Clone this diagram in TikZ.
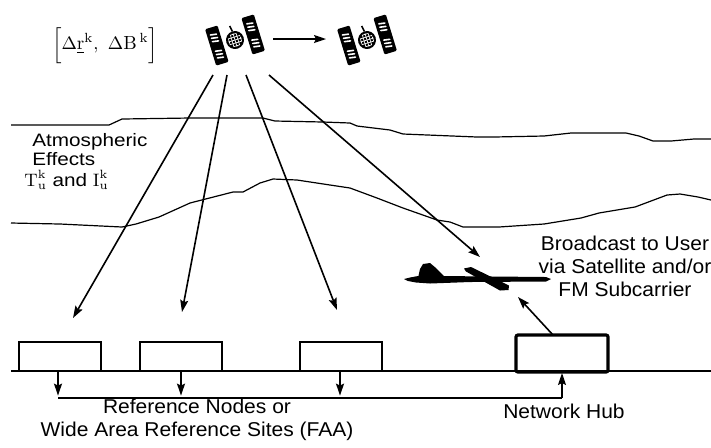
\documentclass[tikz,border=0pt]{standalone}
\usepackage{fontspec}
\newfontfamily\labelfont{Liberation Sans}[FakeStretch=1.05]
\newfontfamily\narrowlabelfont{Liberation Sans}[FakeStretch=1.15]
\usetikzlibrary{arrows.meta}

\tikzset{
  conn/.style={line width=0.8pt},
  ray/.style={line width=0.8pt,-{Stealth[length=6pt,width=4pt,inset=1pt]}},
  air/.style={line width=0.6pt,line join=round},
  site/.style={draw,line width=0.8pt,inner sep=0pt,outer sep=0pt,
    minimum width=41pt,minimum height=14.5pt,anchor=south west},
  hubbox/.style={draw,line width=1.6pt,rounded corners=1pt,inner sep=0pt,outer sep=0pt,
    minimum width=46pt,minimum height=18.5pt,anchor=south west},
  txt/.style={font=\labelfont\fontsize{10}{11.5}\selectfont,inner sep=0pt,align=center},
  atmtxt/.style={font=\narrowlabelfont\fontsize{9}{10}\selectfont,inner sep=0pt,anchor=west},
  sat/.pic={
    \begin{scope}[rotate=17]
      \foreach \s in {-1,1} {
        \fill[black,rounded corners=0.6pt] ({\s*19-6.5},-19) rectangle ({\s*19+6.5},19);
        \foreach \yy in {-12,-8.5,-5,5,8.5,12}
          \draw[white,line width=0.8pt,line cap=round] ({\s*19-3},\yy) -- ({\s*19+3},\yy+1);
      }
      \fill[black] (0,0) circle (9);
      \begin{scope}
        \clip (0,0) circle (6.8);
        \foreach \g in {-6,-3,0,3,6} {
          \draw[white,line width=0.35pt] (\g,-9) -- (\g,9);
          \draw[white,line width=0.35pt] (-9,\g) -- (9,\g);
        }
      \end{scope}
      \draw[line width=0.8pt] (0,-9) -- (-1,-15);
    \end{scope}
  }
}

\begin{document}
\begin{tikzpicture}[x=0.5pt,y=-0.5pt]
\useasboundingbox[fill=white] (0,0) rectangle (711,447);

% satellites and their motion
\pic at (235,40) {sat};
\pic at (367,40) {sat};
\coordinate (m1) at (273,39);
\coordinate (m2) at (326,39);
\draw[ray] (m1) -- (m2);

\node[font=\fontsize{9.5}{11}\selectfont,inner sep=0pt] (corr) at (105,45)
  {$\Bigl[\Delta\underline{\mathrm{r}}^{\mathrm{k}},\ \Delta\mathrm{B}^{\,\mathrm{k}}\Bigr]$};

% atmosphere layers
\draw[air] (11,125) -- (109,125) -- (122,119) -- (190,118) -- (263,118) -- (275,121)
  -- (323,122) -- (350,123) -- (357,126) -- (390,130) -- (403,134) -- (477,137)
  -- (494,137) -- (544,136) -- (571,133) -- (626,133) -- (639,136) -- (653,141)
  -- (671,141) -- (694,139) -- (711,139);
\draw[air] (11,223) -- (60,224) -- (122,227) -- (136,224) -- (159,217) -- (190,203)
  -- (233,192) -- (243,192) -- (260,183) -- (273,179) -- (297,180) -- (330,185)
  -- (350,188) -- (377,198) -- (403,208) -- (437,220) -- (450,222) -- (463,227)
  -- (499,227) -- (544,224) -- (581,218) -- (599,213) -- (635,207) -- (667,195)
  -- (680,194) -- (698,197) -- (711,200);

\node[atmtxt] (atm) at (32,142) {Atmospheric};
\node[atmtxt] (eff) at (32,159) {Effects};
\node[atmtxt] (ti) at (24,180)
  {$\mathrm{T}^{\mathrm{k}}_{\mathrm{u}}$ and $\mathrm{I}^{\mathrm{k}}_{\mathrm{u}}$};

% signal paths from the satellite
\coordinate (s1) at (213,75);
\coordinate (s2) at (227,75);
\coordinate (s3) at (246,75);
\coordinate (s4) at (269,75);
\coordinate (e1) at (73,318);
\coordinate (e2) at (182,312);
\coordinate (e3) at (337,310);
\coordinate (e4) at (480,257);
\draw[ray] (s1) -- (e1);
\draw[ray] (s2) -- (e2);
\draw[ray] (s3) -- (e3);
\draw[ray] (s4) -- (e4);

% aircraft
\fill[black] (410,277.5) -- (418,276) -- (440,276) -- (546,277) -- (551,279)
  -- (546,281.5) -- (470,282) -- (430,283.5) -- (416,282.5) -- (408,281) -- (404,279) -- cycle;
\fill[black] (418,278) -- (420,269) -- (423,264) -- (430,263) -- (436,268) -- (445,277) -- cycle;
\fill[black] (464,268.5) -- (471,267) -- (509,285.5) -- (508.5,290) -- (500,290.5) -- (466,271.5) -- cycle;

\node[txt] (bc) at (625,266)
  {Broadcast to User\\via Satellite and/or\\FM Subcarrier};

% ground segment
\draw[conn] (11,371) -- (711,371);
\node[site] (n1) at (19,371) {};
\node[site] (n2) at (140,371) {};
\node[site] (n3) at (300,371) {};
\node[hubbox] (hub) at (516,372) {};

\coordinate (d1) at (58,371);
\coordinate (d2) at (181,371);
\coordinate (d3) at (340,371);
\coordinate (b1) at (58,398);
\coordinate (b2) at (181,398);
\coordinate (b3) at (340,398);
\coordinate (bh) at (562,398);
\draw[conn] (b1) -- (bh);
\draw[ray] (d1) -- ([yshift=1.2pt]b1);
\draw[ray] (d2) -- ([yshift=1.2pt]b2);
\draw[ray] (d3) -- ([yshift=1.2pt]b3);
\draw[ray] (bh) -- (562,373);

\coordinate (up) at (518,297);
\draw[ray] ([xshift=-4.5pt]hub.north) -- (up);

\node[txt] (ref) at (197,420)
  {Reference Nodes or\\Wide Area Reference Sites (FAA)};
\node[txt] (hubl) at (564,411) {Network Hub};
\end{tikzpicture}
\end{document}
